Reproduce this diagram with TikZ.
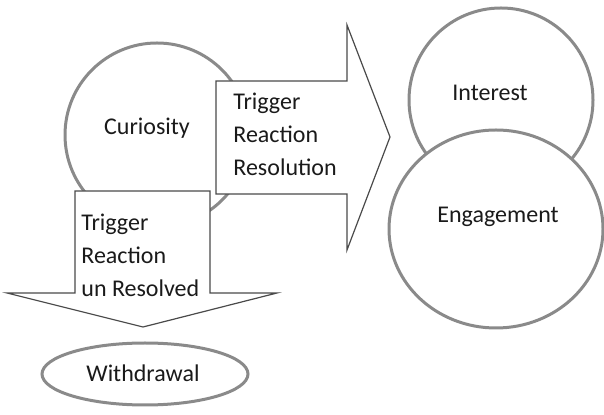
\documentclass[tikz,border=0pt]{standalone}
\usepackage{fontspec}
\setmainfont{Carlito}
\usetikzlibrary{shapes.geometric}
\definecolor{ring}{HTML}{8A8A8A}
\definecolor{edge}{HTML}{4A4A4A}
\definecolor{ink}{HTML}{1A1A1A}

\begin{document}
\begin{tikzpicture}[x=0.5pt,y=-0.5pt,font=\fontsize{12}{16.5}\selectfont,
      oval/.style={ellipse,draw=ring,line width=1.5pt,fill=white,inner sep=0pt},
      arr/.style={draw=edge,line width=0.6pt,fill=white,line join=miter},
      txt/.style={text=ink,inner sep=0pt,align=left}]
    \useasboundingbox (0,0) rectangle (604,415);
    % curiosity sits behind both arrows
    \node[oval,minimum width=92pt,minimum height=92pt] (cur) at (157,135) {};
    \node[txt] (curt) at (147,128) {Curiosity};
    \draw[arr] (216,81) -- (347,81) -- (347,25) -- (390,137) -- (347,250)
      -- (347,194) -- (216,194) -- cycle;
    \node[txt,anchor=west] (res) at (233,134) {Trigger\\Reaction\\Resolution};
    \draw[arr] (75,191) -- (210,191) -- (210,293) -- (277,293) -- (143,327)
      -- (7,293) -- (75,293) -- cycle;
    \node[txt,anchor=west] (unres) at (81,255) {Trigger\\Reaction\\un Resolved};
    % right hand pair
    \node[oval,minimum width=92pt,minimum height=92pt] (int) at (501,100) {};
    \node[txt] (intt) at (490,93) {Interest};
    \node[oval,minimum width=107pt,minimum height=99pt] (eng) at (496,229) {};
    \node[txt] (engt) at (498,217) {Engagement};
    \node[oval,minimum width=103pt,minimum height=31pt] (wd) at (145,374) {};
    \node[txt] (wdt) at (143,373) {Withdrawal};
  \end{tikzpicture}
\end{document}
